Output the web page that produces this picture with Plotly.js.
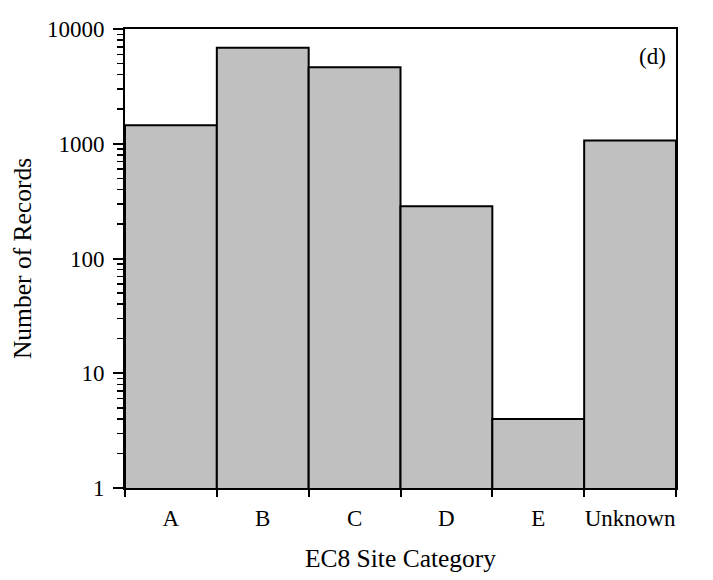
<!DOCTYPE html>
<html>
<head>
<meta charset="utf-8">
<script src="https://cdn.plot.ly/plotly-3.0.1.min.js"></script>
<style>html,body{margin:0;padding:0;background:#fff;}#chart{width:713px;height:580px;}</style>
</head>
<body>
<div id="chart"></div>
<script>
const categories = ["A", "B", "C", "D", "E", "Unknown"];
const records = [1450, 6850, 4650, 285, 4, 1070];
const majorTicks = [1, 10, 100, 1000, 10000];
const majorLabels = ["1", "10", "100", "1000", "10000"];
const minorDigits = [2, 3, 4, 5, 6, 7, 8, 9];

const minorVals = [];
for (const d of [1, 10, 100, 1000]) for (const m of minorDigits) minorVals.push(d * m);

const font = "Liberation Serif, Times New Roman, serif";

const trace = {
  type: "bar",
  x: categories,
  y: records,
  marker: { color: "#c0c0c0", line: { color: "#000", width: 2 } },
  hoverinfo: "x+y"
};

const layout = {
  width: 713, height: 580,
  margin: { l: 125, r: 37, t: 29, b: 92 },
  paper_bgcolor: "#fff", plot_bgcolor: "#fff",
  bargap: 0,
  showlegend: false,
  font: { family: font, color: "#000", size: 23 },
  xaxis: {
    type: "category",
    tickson: "boundaries",
    tickangle: 0,
    ticks: "outside", ticklen: 7, tickwidth: 2, tickcolor: "#000",
    ticklabelstandoff: 8,
    showline: true, linecolor: "#000", linewidth: 2, mirror: true,
    showgrid: false, zeroline: false,
    tickfont: { family: font, size: 23 },
    title: { text: "EC8 Site Category", font: { family: font, size: 25.5 }, standoff: 20 }
  },
  yaxis: {
    type: "log",
    range: [0, 4],
    tickmode: "array", tickvals: majorTicks, ticktext: majorLabels,
    ticks: "outside", ticklen: 10, tickwidth: 2, tickcolor: "#000",
    ticklabelstandoff: 4,
    minor: { tickmode: "array", tickvals: minorVals, ticks: "outside", ticklen: 6, tickwidth: 1.5, tickcolor: "#000", showgrid: false },
    showline: true, linecolor: "#000", linewidth: 2, mirror: true,
    showgrid: false, zeroline: false,
    tickfont: { family: font, size: 23 },
    title: { text: "Number of Records", font: { family: font, size: 25.5 }, standoff: 8 }
  },
  annotations: [{
    text: "(d)", xref: "paper", yref: "paper", x: 0.985, y: 0.94,
    xanchor: "right", yanchor: "middle", showarrow: false,
    font: { family: font, size: 23, color: "#000" }
  }]
};

Plotly.newPlot("chart", [trace], layout, { displayModeBar: false, staticPlot: true });
</script>
</body>
</html>
